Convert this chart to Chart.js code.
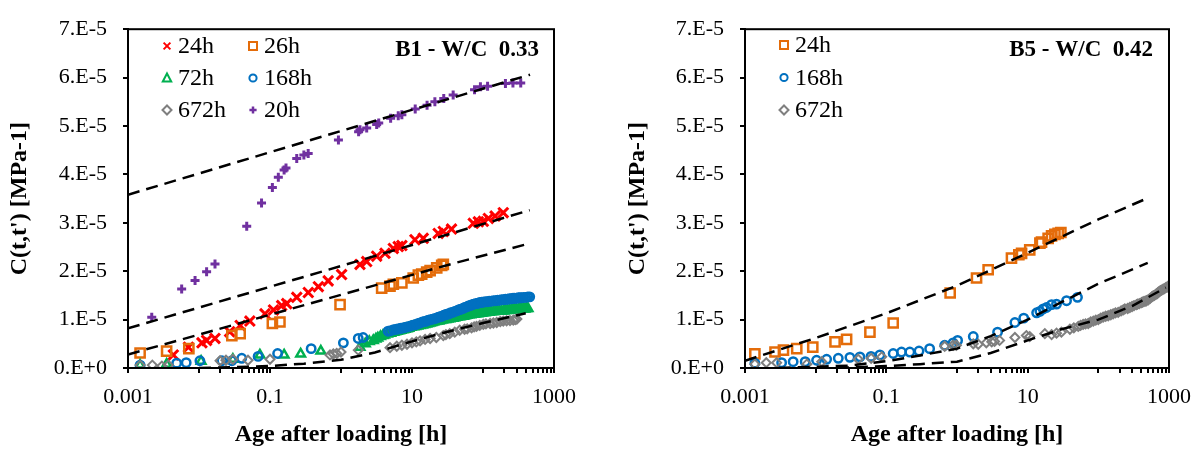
<!DOCTYPE html>
<html>
<head>
<meta charset="utf-8">
<script src="https://cdn.jsdelivr.net/npm/chart.js@4.4.1/dist/chart.umd.min.js"></script>
<style>
  body { margin: 0; background: #fff; }
  .panel { position: absolute; top: 0; height: 449px; }
</style>
</head>
<body>
<div class="panel" style="left:0;width:600px"><canvas id="b1Chart"></canvas></div>
<div class="panel" style="left:600px;width:603px"><canvas id="b5Chart"></canvas></div>
<script>
// axis ticks
const xTickVals = [0.001, 0.01, 0.02, 0.03, 0.04, 0.05, 0.06, 0.07, 0.08, 0.09, 0.1,
  1, 2, 3, 4, 5, 6, 7, 8, 9, 10, 100, 200, 300, 400, 500, 600, 700, 800, 900, 1000];
const xLabelVals = [0.001, 0.1, 10, 1000];
const xLabels = ['0.001', '0.1', '10', '1000'];
const yTickVals = [0, 1e-5, 2e-5, 3e-5, 4e-5, 5e-5, 6e-5, 7e-5];
const yLabels = ['0.E+0', '1.E-5', '2.E-5', '3.E-5', '4.E-5', '5.E-5', '6.E-5', '7.E-5'];

// B1 - W/C 0.33  (time in h, compliance in 1e-5 MPa-1)
const b1_24h_t = [0.00435, 0.0071, 0.011, 0.0128, 0.0168, 0.027, 0.038, 0.052, 0.085, 0.112, 0.146, 0.172, 0.238, 0.346, 0.48, 0.66, 1.02, 1.85, 2.3, 3.18, 4.17, 5.46, 6.4, 7.2, 11.0, 14.4, 23.4, 27.6, 36, 73, 86, 101, 119, 148, 193];
const b1_24h_c = [0.27, 0.43, 0.52, 0.57, 0.61, 0.75, 0.88, 0.97, 1.12, 1.20, 1.29, 1.33, 1.46, 1.56, 1.68, 1.80, 1.93, 2.14, 2.20, 2.31, 2.37, 2.47, 2.51, 2.53, 2.65, 2.68, 2.78, 2.82, 2.87, 2.99, 3.02, 3.03, 3.09, 3.14, 3.21];
const b1_26h_t = [0.00148, 0.0035, 0.0072, 0.029, 0.038, 0.108, 0.138, 0.97, 3.74, 4.9, 5.46, 7.2, 10.4, 12.3, 13.7, 16.1, 18, 22.3, 26.2, 27.6];
const b1_26h_c = [0.31, 0.35, 0.40, 0.67, 0.71, 0.92, 0.95, 1.31, 1.65, 1.69, 1.73, 1.76, 1.86, 1.92, 1.94, 1.98, 2.01, 2.07, 2.12, 2.14];
const b1_72h_t = [0.00148, 0.0035, 0.0107, 0.030, 0.072, 0.158, 0.27, 0.52,
  1.85, 2.2, 2.5, 2.85, 3.1, 3.3, 3.6, 3.9, 4.1, 4.5,
  5.0, 5.5, 5.8, 6.2, 6.6, 7, 7.5, 8, 8.5, 9,
  9.7, 10.5, 11.2, 12, 13, 14, 15, 16, 17, 18,
  19, 20, 21.2, 22.5, 23.7, 25, 26.7, 28.5, 30, 32,
  34, 36, 38, 40, 42.5, 45, 47.5, 50, 53, 56,
  59.5, 63, 67, 71, 75.5, 80, 85, 90, 95, 100,
  107, 115, 122, 130, 140, 150, 160, 170, 182, 195,
  207, 220, 235, 250, 265, 280, 297, 315, 332, 350,
  370, 390, 410, 430];
const b1_72h_c = [0.06, 0.08, 0.14, 0.18, 0.27, 0.27, 0.29, 0.35,
  0.43, 0.50, 0.55, 0.57, 0.60, 0.62, 0.65, 0.67, 0.68, 0.70,
  0.72, 0.74, 0.75, 0.76, 0.77, 0.78, 0.79, 0.80, 0.81, 0.82,
  0.84, 0.85, 0.86, 0.87, 0.88, 0.89, 0.90, 0.91, 0.92, 0.93,
  0.94, 0.95, 0.96, 0.97, 0.97, 0.98, 0.99, 1.00, 1.00, 1.01,
  1.02, 1.03, 1.03, 1.04, 1.05, 1.06, 1.06, 1.07, 1.07, 1.08,
  1.09, 1.10, 1.10, 1.11, 1.11, 1.12, 1.12, 1.13, 1.13, 1.14,
  1.14, 1.15, 1.15, 1.16, 1.16, 1.17, 1.17, 1.18, 1.18, 1.18,
  1.19, 1.19, 1.20, 1.20, 1.20, 1.21, 1.21, 1.21, 1.22, 1.22,
  1.22, 1.22, 1.23, 1.23];
const b1_168h_t = [0.00148, 0.00485, 0.0066, 0.0103, 0.021, 0.029, 0.040, 0.068, 0.128, 0.38, 1.08, 1.75, 2.05,
  4.6, 5.0, 5.5, 6, 6.5, 7, 7.5, 8, 8.5, 9.2,
  10, 10.7, 11.5, 12.2, 13, 14, 15, 16, 17, 18.2,
  19.5, 20.7, 22, 23.5, 25, 26.5, 28, 29.5, 31, 33,
  35, 37.5, 40, 42.5, 45, 47.5, 50, 52.5, 55, 58.5,
  62, 66, 70, 74, 78, 81.5, 85, 88.5, 92, 96,
  100, 107, 115, 122, 130, 140, 150, 160, 170, 182,
  195, 207, 220, 235, 250, 265, 280, 297, 315, 332,
  350, 375, 400, 427, 455];
const b1_168h_c = [0.06, 0.10, 0.11, 0.15, 0.15, 0.15, 0.20, 0.24, 0.30, 0.40, 0.52, 0.61, 0.63,
  0.76, 0.77, 0.79, 0.80, 0.81, 0.82, 0.83, 0.84, 0.85, 0.86,
  0.88, 0.89, 0.90, 0.92, 0.93, 0.95, 0.96, 0.97, 0.99, 1.00,
  1.01, 1.02, 1.03, 1.05, 1.06, 1.07, 1.09, 1.10, 1.11, 1.12,
  1.14, 1.15, 1.17, 1.18, 1.20, 1.21, 1.22, 1.23, 1.25, 1.26,
  1.28, 1.29, 1.31, 1.32, 1.33, 1.33, 1.34, 1.35, 1.35, 1.36,
  1.36, 1.37, 1.37, 1.38, 1.38, 1.39, 1.39, 1.40, 1.40, 1.41,
  1.41, 1.42, 1.42, 1.43, 1.43, 1.44, 1.44, 1.44, 1.45, 1.45,
  1.45, 1.46, 1.46, 1.47, 1.47];
const b1_672h_t = [0.00148, 0.0022, 0.0030, 0.0037, 0.0198, 0.024, 0.030, 0.049, 0.10, 0.70,
  0.78, 0.87, 1.0, 1.75, 4.9, 6.1, 7.2, 8.5, 10, 11.5,
  13, 15.3, 18, 22, 27.6, 30, 34, 40, 47, 55,
  60, 69, 75, 81, 90, 101, 110, 126, 140, 156,
  175, 193, 215, 240, 267, 285, 300];
const b1_672h_c = [0.06, 0.06, 0.04, 0.06, 0.15, 0.16, 0.18, 0.16, 0.18, 0.27,
  0.29, 0.30, 0.33, 0.37, 0.42, 0.45, 0.47, 0.49, 0.52, 0.54,
  0.56, 0.59, 0.61, 0.63, 0.67, 0.69, 0.71, 0.74, 0.78, 0.80,
  0.81, 0.83, 0.85, 0.86, 0.88, 0.90, 0.91, 0.92, 0.93, 0.94,
  0.96, 0.97, 0.975, 0.98, 0.99, 1.00, 1.01];
const b1_20h_t = [0.00216, 0.0057, 0.0088, 0.0128, 0.0168, 0.047, 0.076, 0.108, 0.131, 0.158, 0.168, 0.238, 0.30, 0.345, 0.92, 1.77, 1.85, 2.3, 3.18, 3.4, 5.0, 6.4, 7.2, 11.1, 16.3, 21, 28, 38, 76, 92, 116, 207, 264, 340];
const b1_20h_c = [1.05, 1.63, 1.81, 1.99, 2.15, 2.93, 3.41, 3.73, 3.94, 4.09, 4.13, 4.33, 4.40, 4.43, 4.71, 4.88, 4.92, 4.96, 5.03, 5.06, 5.16, 5.21, 5.23, 5.35, 5.43, 5.50, 5.57, 5.64, 5.75, 5.81, 5.82, 5.88, 5.89, 5.89];

// B1 fitted curves
const b1_fit20_t = [0.001, 0.74, 460];
const b1_fit20_c = [3.58, 4.84, 6.06];
const b1_fit24_t = [0.001, 0.66, 455];
const b1_fit24_c = [0.82, 2.03, 3.26];
const b1_fit26_t = [0.001, 34, 470];
const b1_fit26_c = [0.28, 2.14, 2.58];
const b1_fitLow_t = [0.01, 0.1, 0.3, 1, 3, 10, 30, 100, 400];
const b1_fitLow_c = [0.0, 0.04, 0.09, 0.17, 0.32, 0.55, 0.74, 0.93, 1.13];

// B5 - W/C 0.42
const b5_24h_t = [0.00138, 0.00266, 0.0035, 0.0054, 0.0091, 0.0188, 0.0274, 0.0586, 0.125, 0.80, 1.89, 2.76, 5.9, 7.5, 8.2, 10.7, 14.9, 15.7, 19.5, 21.8, 24.3, 27, 29.5];
const b5_24h_c = [0.29, 0.33, 0.37, 0.40, 0.43, 0.54, 0.59, 0.74, 0.93, 1.55, 1.86, 2.03, 2.27, 2.34, 2.37, 2.44, 2.58, 2.60, 2.68, 2.73, 2.76, 2.78, 2.80];
const b5_168h_t = [0.00138, 0.0033, 0.0048, 0.0071, 0.0103, 0.0143, 0.0209, 0.0305, 0.0423, 0.0607, 0.081, 0.125, 0.164, 0.215, 0.29, 0.41, 0.67, 0.88, 1.02, 1.7, 3.75, 6.6, 8.8, 13.4, 14.9, 16.6, 18.5, 21.8, 25.6, 35.5, 50.7];
const b5_168h_c = [0.10, 0.11, 0.13, 0.13, 0.16, 0.18, 0.20, 0.22, 0.23, 0.24, 0.27, 0.30, 0.33, 0.33, 0.35, 0.40, 0.47, 0.52, 0.57, 0.65, 0.74, 0.94, 1.03, 1.14, 1.17, 1.22, 1.25, 1.31, 1.32, 1.39, 1.46];
const b5_672h_t = [0.00138, 0.0020, 0.0028, 0.0075, 0.0122, 0.040, 0.061, 0.086, 0.67, 0.88,
  0.98, 1.7, 2.0, 2.6, 3.1, 3.4, 4.0, 6.6, 9.6, 10.7,
  17.5, 21.8, 25.6, 30, 39.6, 45, 52, 56, 61, 66,
  72, 78, 85, 92, 100, 108, 117, 127, 138, 150,
  162, 175, 191, 210, 225, 237, 260, 279, 300, 320,
  347, 360, 380, 408, 420, 440, 460, 480, 510, 540,
  570, 596, 620, 650, 680, 701, 730, 760, 790, 826,
  860, 900, 940, 971];
const b5_672h_c = [0.08, 0.11, 0.11, 0.08, 0.13, 0.18, 0.20, 0.23, 0.45, 0.47,
  0.47, 0.50, 0.49, 0.52, 0.54, 0.55, 0.57, 0.63, 0.67, 0.65,
  0.71, 0.69, 0.72, 0.74, 0.80, 0.83, 0.86, 0.88, 0.90, 0.91,
  0.92, 0.95, 0.97, 0.99, 1.00, 1.03, 1.05, 1.07, 1.08, 1.10,
  1.12, 1.14, 1.15, 1.18, 1.20, 1.22, 1.23, 1.25, 1.27, 1.29,
  1.31, 1.32, 1.33, 1.35, 1.36, 1.37, 1.38, 1.39, 1.41, 1.44,
  1.47, 1.49, 1.50, 1.52, 1.54, 1.56, 1.58, 1.60, 1.61, 1.63,
  1.64, 1.66, 1.67, 1.69];

// B5 fitted curves
const b5_fit24_t = [0.001, 0.01, 0.1, 1, 10, 100, 480];
const b5_fit24_c = [0.15, 0.62, 1.13, 1.70, 2.38, 3.07, 3.50];
const b5_fit168_t = [0.003, 0.03, 0.1, 0.3, 1, 3, 10, 30, 100, 500];
const b5_fit168_c = [0.0, 0.05, 0.14, 0.26, 0.40, 0.66, 1.0, 1.36, 1.74, 2.17];
const b5_fit672_t = [0.02, 0.1, 0.3, 1, 3, 10, 30, 100, 300, 900];
const b5_fit672_c = [0.0, 0.04, 0.08, 0.13, 0.31, 0.57, 0.80, 1.0, 1.28, 1.66];

const FONT = "'Liberation Serif', 'Times New Roman', serif";

function pts(t, c) {
  return t.map((x, i) => ({ x: x, y: c[i] * 1e-5 }));
}

function labelAt(vals, labels, v) {
  const i = vals.findIndex(u => Math.abs(u - v) <= Math.abs(u) * 1e-6 + 1e-12);
  return i >= 0 ? labels[i] : '';
}

const marks = {
  x:       { pointStyle: 'crossRot', pointRadius: 7,   pointBorderWidth: 3 },
  square:  { pointStyle: 'rect',     pointRadius: 6.5, pointBorderWidth: 2.5 },
  tri:     { pointStyle: 'triangle', pointRadius: 5,   pointBorderWidth: 2.5 },
  circle:  { pointStyle: 'circle',   pointRadius: 4.2, pointBorderWidth: 2.5 },
  diamond: { pointStyle: 'rectRot',  pointRadius: 4.5, pointBorderWidth: 2 },
  plus:    { pointStyle: 'cross',    pointRadius: 4.5, pointBorderWidth: 3 }
};

function series(label, t, c, color, mark, order) {
  return Object.assign({
    label: label,
    data: pts(t, c),
    borderColor: color,
    backgroundColor: 'rgba(0,0,0,0)',
    showLine: false,
    order: order
  }, marks[mark]);
}

function fit(t, c) {
  return {
    data: pts(t, c),
    showLine: true,
    borderColor: '#000',
    borderWidth: 2.5,
    borderDash: [12, 7],
    pointRadius: 0,
    fill: false,
    order: 0
  };
}

function drawMarker(ctx, style, x, y, color) {
  ctx.save();
  ctx.strokeStyle = color;
  ctx.lineWidth = 2;
  ctx.beginPath();
  if (style === 'crossRot') {
    const r = 3.4;
    ctx.moveTo(x - r, y - r); ctx.lineTo(x + r, y + r);
    ctx.moveTo(x + r, y - r); ctx.lineTo(x - r, y + r);
  } else if (style === 'rect') {
    ctx.rect(x - 4, y - 4, 8, 8);
  } else if (style === 'triangle') {
    ctx.moveTo(x, y - 4.5); ctx.lineTo(x + 4.2, y + 3.5); ctx.lineTo(x - 4.2, y + 3.5); ctx.closePath();
  } else if (style === 'circle') {
    ctx.arc(x, y, 3.6, 0, Math.PI * 2);
  } else if (style === 'rectRot') {
    ctx.moveTo(x, y - 4.5); ctx.lineTo(x + 4.5, y); ctx.lineTo(x, y + 4.5); ctx.lineTo(x - 4.5, y); ctx.closePath();
  } else if (style === 'cross') {
    ctx.lineWidth = 2.5;
    ctx.moveTo(x - 3.6, y); ctx.lineTo(x + 3.6, y);
    ctx.moveTo(x, y - 3.6); ctx.lineTo(x, y + 3.6);
  }
  ctx.stroke();
  ctx.restore();
}

// frame, in-plot legend and panel tag
const panelDecor = {
  id: 'panelDecor',
  afterDraw(chart, args, opts) {
    const ctx = chart.ctx, a = chart.chartArea;
    ctx.save();
    ctx.strokeStyle = '#000';
    ctx.lineWidth = 2;
    ctx.strokeRect(a.left, a.top, a.right - a.left, a.bottom - a.top);

    ctx.font = '24px ' + FONT;
    ctx.textBaseline = 'middle';
    ctx.textAlign = 'left';
    ctx.fillStyle = '#000';
    chart.data.datasets.filter(d => d.label).forEach((d, i) => {
      const col = i % opts.cols, row = Math.floor(i / opts.cols);
      const mx = opts.x[col], my = opts.y0 + row * opts.dy;
      drawMarker(ctx, d.pointStyle, mx, my, d.borderColor);
      ctx.fillText(d.label, mx + 11, my + 1);
    });

    ctx.font = 'bold 23px ' + FONT;
    ctx.textAlign = 'right';
    ctx.fillText(opts.tag, opts.tagX, opts.tagY);
    ctx.restore();
  }
};

function axisFont(size, bold) {
  return { family: FONT, size: size, weight: bold ? 'bold' : 'normal' };
}

function makeChart(id, datasets, g) {
  const tickGrid = { display: true, drawOnChartArea: false, drawTicks: true, tickLength: 5, color: '#000', lineWidth: 2 };
  return new Chart(document.getElementById(id), {
    type: 'scatter',
    data: { datasets: datasets },
    plugins: [panelDecor],
    options: {
      responsive: true,
      maintainAspectRatio: false,
      animation: false,
      events: [],
      layout: { padding: { top: 25, right: g.padRight, bottom: 0, left: 0 } },
      plugins: {
        legend: { display: false },
        tooltip: { enabled: false },
        panelDecor: g.decor
      },
      scales: {
        x: {
          type: 'logarithmic',
          min: 0.001,
          max: 1000,
          afterBuildTicks: s => { s.ticks = xTickVals.map(v => ({ value: v })); },
          afterFit: s => { s.height = 81; },
          ticks: {
            autoSkip: false, maxRotation: 0, padding: 11, color: '#000',
            font: axisFont(22),
            callback: v => labelAt(xLabelVals, xLabels, v)
          },
          grid: tickGrid,
          border: { display: true, color: '#000', width: 2 },
          title: {
            display: true, text: 'Age after loading [h]', color: '#000',
            font: axisFont(24, true), padding: { top: 0, bottom: 0 }
          }
        },
        y: {
          min: 0,
          max: 7e-5,
          afterBuildTicks: s => { s.ticks = yTickVals.map(v => ({ value: v })); },
          afterFit: s => { s.width = g.yWidth; },
          ticks: {
            padding: 16, color: '#000',
            font: axisFont(22),
            callback: v => labelAt(yTickVals, yLabels, v)
          },
          grid: tickGrid,
          border: { display: true, color: '#000', width: 2 },
          title: {
            display: true, text: "C(t,t') [MPa-1]", color: '#000',
            font: axisFont(24, true), padding: { top: g.yTitlePad, bottom: 0 }
          }
        }
      }
    }
  });
}

makeChart('b1Chart', [
  series('24h', b1_24h_t, b1_24h_c, '#FF0000', 'x', 6),
  series('26h', b1_26h_t, b1_26h_c, '#E46C0A', 'square', 5),
  series('72h', b1_72h_t, b1_72h_c, '#00B050', 'tri', 4),
  series('168h', b1_168h_t, b1_168h_c, '#0070C0', 'circle', 3),
  series('672h', b1_672h_t, b1_672h_c, '#7F7F7F', 'diamond', 2),
  series('20h', b1_20h_t, b1_20h_c, '#7030A0', 'plus', 1),
  fit(b1_fit20_t, b1_fit20_c),
  fit(b1_fit24_t, b1_fit24_c),
  fit(b1_fit26_t, b1_fit26_c),
  fit(b1_fitLow_t, b1_fitLow_c)
], {
  padRight: 46, yWidth: 128, yTitlePad: 5,
  decor: { cols: 2, x: [167, 253], y0: 46, dy: 32, tag: 'B1 - W/C  0.33', tagX: 539, tagY: 50 }
});

makeChart('b5Chart', [
  series('24h', b5_24h_t, b5_24h_c, '#E46C0A', 'square', 3),
  series('168h', b5_168h_t, b5_168h_c, '#0070C0', 'circle', 2),
  series('672h', b5_672h_t, b5_672h_c, '#7F7F7F', 'diamond', 1),
  fit(b5_fit24_t, b5_fit24_c),
  fit(b5_fit168_t, b5_fit168_c),
  fit(b5_fit672_t, b5_fit672_c)
], {
  padRight: 34, yWidth: 145, yTitlePad: 23,
  decor: { cols: 1, x: [184], y0: 45, dy: 32.5, tag: 'B5 - W/C  0.42', tagX: 553, tagY: 50 }
});
</script>
</body>
</html>
